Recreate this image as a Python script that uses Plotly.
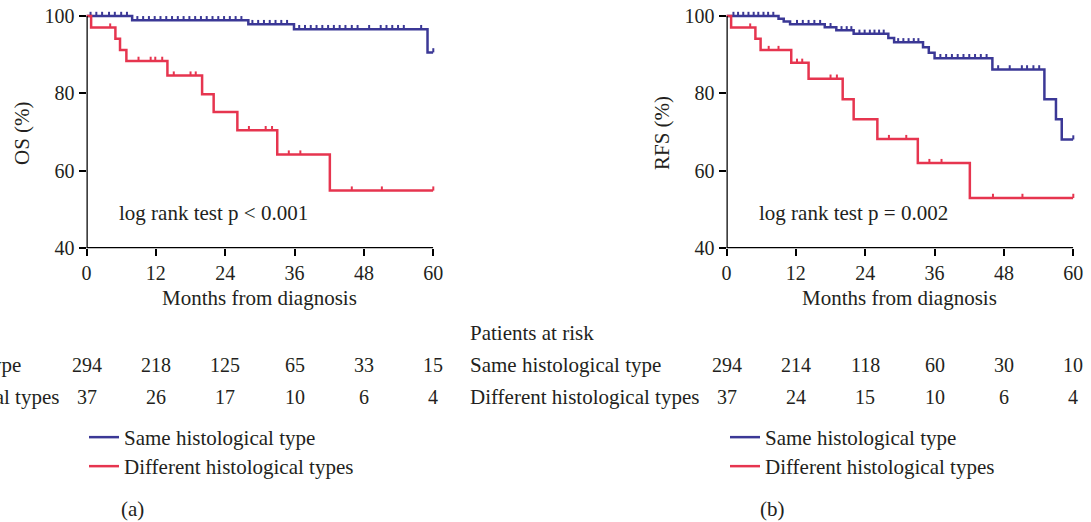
import plotly.graph_objects as go

# ---------------- data ----------------
risk_months = [0, 12, 24, 36, 48, 60]
os_risk_same = [294, 218, 125, 65, 33, 15]
os_risk_diff = [37, 26, 17, 10, 6, 4]
rfs_risk_same = [294, 214, 118, 60, 30, 10]
rfs_risk_diff = [37, 24, 15, 10, 6, 4]

group_names = ["Same histological type", "Different histological types"]

# OS - same histological type (event times / survival after event)
os_same_t = [7.9, 28.0, 35.9, 59.0]
os_same_s = [98.9, 97.9, 96.6, 90.6]
os_same_cens = [0.7, 1.7, 2.7, 3.9, 4.9, 6.0, 7.0,
                8.8, 9.8, 10.8, 11.8, 12.8, 13.8, 14.8, 15.8, 16.8, 17.8, 18.8, 19.8,
                20.8, 21.8, 22.8, 23.8, 24.8, 25.8, 26.8,
                28.7, 29.7, 30.7, 31.7, 32.7, 33.7, 34.7,
                36.8, 37.8, 38.8, 39.8, 40.8, 41.8, 42.8, 43.8, 44.8, 45.9, 46.9,
                48.9, 50.9, 51.9, 52.9, 53.9, 54.9, 57.9, 60.0]

# OS - different histological types
os_diff_t = [0.8, 5.0, 5.8, 6.9, 14.0, 20.0, 22.0, 26.1, 33.0, 42.1]
os_diff_s = [97.0, 94.1, 91.2, 88.4, 84.6, 79.8, 75.2, 70.5, 64.2, 54.9]
os_diff_cens = [4.1, 9.0, 11.1, 11.9, 13.1, 15.1, 18.0, 18.9, 28.1, 31.0, 32.1,
                35.0, 37.0, 45.9, 51.1, 60.0]

# RFS - same histological type
rfs_same_t = [9.0, 9.9, 11.0, 17.0, 19.0, 22.0, 28.0, 29.0, 34.0, 35.0, 36.0,
              46.0, 55.0, 57.0, 58.0]
rfs_same_s = [99.3, 98.6, 97.9, 97.1, 96.3, 95.4, 94.3, 93.2, 91.9, 90.5, 89.1,
              86.2, 78.5, 73.3, 68.1]
rfs_same_cens = [1.2, 2.0, 2.9, 3.8, 4.7, 5.5, 6.4, 7.2, 8.1,
                 12.2, 13.2, 14.2, 15.2, 16.2, 18.0, 19.9, 20.8, 21.6,
                 23.0, 23.9, 24.8, 25.6, 26.4, 27.2,
                 29.7, 30.6, 31.5, 32.4, 33.2,
                 37.0, 38.0, 39.0, 40.0, 41.0, 42.0, 43.0, 44.0, 45.0,
                 47.0, 49.0, 51.1, 52.0, 53.1, 54.1, 60.0]

# RFS - different histological types
rfs_diff_t = [0.8, 5.0, 5.9, 11.2, 14.2, 20.1, 22.0, 26.1, 33.1, 42.1]
rfs_diff_s = [97.0, 94.1, 91.2, 87.9, 83.8, 78.5, 73.3, 68.2, 62.0, 53.0]
rfs_diff_cens = [4.1, 7.3, 9.0, 12.2, 13.1, 18.0, 19.1, 28.1, 31.1, 35.1, 37.2,
                 46.1, 51.2, 60.0]

# ---------------- style ----------------
W, H = 1091, 522
BLUE = "#3b3896"
RED = "#e6354f"
TXT = "#231f20"
FONT = "Liberation Serif"
FS = 21
TFS = 20
LW = 2.5

def px_x(p):
    return p / W

def px_y(p):
    return 1 - p / H

Y_BOTTOM_PX, Y100_PX = 248.3, 16.0
YTOP = 101.2
ppu = (Y_BOTTOM_PX - Y100_PX) / 60.0
ytop_px = Y100_PX - (YTOP - 100) * ppu
ydom = [px_y(Y_BOTTOM_PX), px_y(ytop_px)]
xdom1 = [px_x(86.5), px_x(433.3)]
xdom2 = [px_x(726.5), px_x(1073.3)]


def step_xy(times, surv):
    xs = [0.0] + list(times) + [60.0]
    ys = [100.0] + list(surv) + [surv[-1]]
    return xs, ys


def surv_at(times, surv, t):
    val = 100.0
    for ti, si in zip(times, surv):
        if ti <= t:
            val = si
    return val


fig = go.Figure()

panels = [
    ("x", "y", ["legend", "legend2"], [(os_same_t, os_same_s, os_same_cens, BLUE),
                                       (os_diff_t, os_diff_s, os_diff_cens, RED)]),
    ("x2", "y2", ["legend3", "legend4"], [(rfs_same_t, rfs_same_s, rfs_same_cens, BLUE),
                                          (rfs_diff_t, rfs_diff_s, rfs_diff_cens, RED)]),
]

tick_offset = 2.1 / ppu  # censor marks sit just above the curve
for xa, ya, legs, curves in panels:
    for (t, s, c, col), name, leg in zip(curves, group_names, legs):
        xs, ys = step_xy(t, s)
        fig.add_trace(go.Scatter(x=xs, y=ys, mode="lines", line_shape="hv",
                                 line=dict(color=col, width=LW), name=name,
                                 xaxis=xa, yaxis=ya, legend=leg,
                                 hoverinfo="skip"))
        cy = [surv_at(t, s, ci) + tick_offset for ci in c]
        fig.add_trace(go.Scatter(x=c, y=cy, mode="markers", showlegend=False,
                                 marker=dict(symbol="line-ns", size=3, color=col,
                                             line=dict(color=col, width=2)),
                                 xaxis=xa, yaxis=ya, cliponaxis=False,
                                 hoverinfo="skip"))

axis_common = dict(showgrid=False, zeroline=False, showline=False, automargin=False,
                   ticks="outside", ticklen=7, tickwidth=2, tickcolor="black",
                   tickfont=dict(family=FONT, size=TFS, color=TXT))

fig.update_layout(
    xaxis=dict(domain=xdom1, range=[0, 60], tickvals=risk_months, anchor="y", **axis_common),
    yaxis=dict(domain=ydom, range=[40, YTOP], tickvals=[40, 60, 80, 100], anchor="x", **axis_common),
    xaxis2=dict(domain=xdom2, range=[0, 60], tickvals=risk_months, anchor="y2", **axis_common),
    yaxis2=dict(domain=ydom, range=[40, YTOP], tickvals=[40, 60, 80, 100], anchor="x2", **axis_common),
)

shapes = []
for xr, yr in [("x", "y"), ("x2", "y2")]:
    shapes.append(dict(type="line", xref=xr, yref=yr, x0=0, x1=60, y0=40, y1=40,
                       line=dict(color="black", width=LW)))
    shapes.append(dict(type="line", xref=xr, yref=yr, x0=0, x1=0, y0=40, y1=100,
                       line=dict(color="black", width=LW)))

ann = []
def A(text, x, y, xref="paper", yref="paper", xanchor="center", yanchor="middle", angle=0, size=FS):
    ann.append(dict(text=text, x=x, y=y, xref=xref, yref=yref, xanchor=xanchor,
                    yanchor=yanchor, showarrow=False, textangle=angle,
                    font=dict(family=FONT, size=size, color=TXT)))

# per-panel texts
panel_specs = [
    ("x", "OS (%)", "log rank test p < 0.001", os_risk_same, os_risk_diff, 0, "(a)"),
    ("x2", "RFS (%)", "log rank test p = 0.002", rfs_risk_same, rfs_risk_diff, 640, "(b)"),
]
for xr, ytitle, ptext, rs, rd, dx, lab in panel_specs:
    A(ytitle, px_x(22 + dx), px_y(133), angle=-90)
    A("Months from diagnosis", 30, px_y(298), xref=xr)
    A(ptext, px_x(117 + dx), px_y(213), xanchor="left")
    A("Patients at risk", px_x(-172 + dx), px_y(333), xanchor="left")
    A(group_names[0], px_x(-172 + dx), px_y(365), xanchor="left")
    A(group_names[1], px_x(-172 + dx), px_y(397), xanchor="left")
    for m, a, b in zip(risk_months, rs, rd):
        A(str(a), m, px_y(365), xref=xr, size=TFS)
        A(str(b), m, px_y(397), xref=xr, size=TFS)
    A(lab, px_x(132 + dx), px_y(509))

legend_common = dict(font=dict(family=FONT, size=FS, color=TXT), bgcolor="rgba(0,0,0,0)",
                     borderwidth=0, xanchor="left", yanchor="top", orientation="v")
fig.update_layout(
    width=W, height=H,
    margin=dict(l=0, r=0, t=0, b=0),
    paper_bgcolor="white", plot_bgcolor="white",
    showlegend=True,
    legend=dict(x=px_x(84), y=px_y(417), **legend_common),
    legend2=dict(x=px_x(84), y=px_y(446), **legend_common),
    legend3=dict(x=px_x(725), y=px_y(417), **legend_common),
    legend4=dict(x=px_x(725), y=px_y(446), **legend_common),
    shapes=shapes, annotations=ann,
    font=dict(family=FONT, size=FS, color=TXT),
)

fig.write_html("out.html", config={"displayModeBar": False},
               post_script="document.body.style.margin='0px';")
